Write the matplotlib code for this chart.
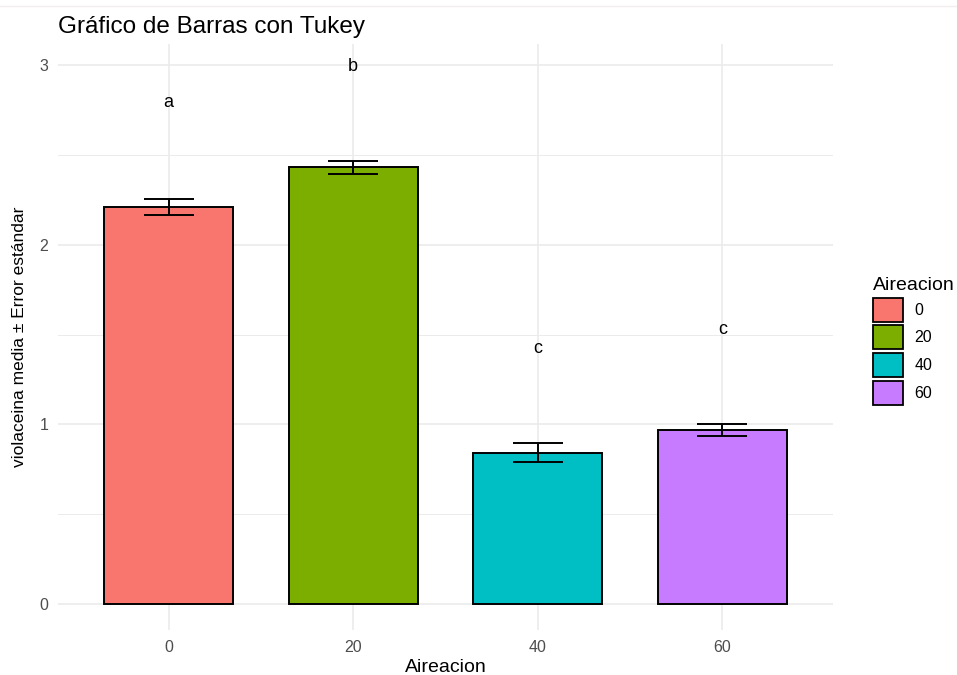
import matplotlib
matplotlib.use("Agg")
import matplotlib.pyplot as plt
from matplotlib.patches import Patch
from matplotlib.lines import Line2D
import numpy as np

plt.rcParams['font.family'] = ['Liberation Sans', 'DejaVu Sans']

# datos
aireacion = ['0', '20', '40', '60']
medias = [2.21, 2.43, 0.843, 0.968]
errores = [0.046, 0.037, 0.053, 0.034]
letras = ['a', 'b', 'c', 'c']
letra_y = [2.79, 2.99, 1.42, 1.53]
colores = ['#F8766D', '#7CAE00', '#00BFC4', '#C77CFF']

W, H = 957, 675
fig = plt.figure(figsize=(W / 100, H / 100), dpi=100)
# panel: x 58..833 px, y 44..630 px
ax = fig.add_axes([58 / W, 1 - 630 / H, (833 - 58) / W, (630 - 44) / H])

x = np.arange(len(aireacion))
ax.bar(x, medias, width=0.7, color=colores, edgecolor='black', linewidth=1.4, zorder=3)
ax.errorbar(x, medias, yerr=errores, fmt='none', ecolor='black', elinewidth=1.4,
            capsize=18, capthick=1.4, zorder=4)
for xi, l, ly in zip(x, letras, letra_y):
    ax.text(xi, ly, l, ha='center', va='center', fontsize=13, color='black', zorder=5)

ax.set_xlim(-0.6, len(aireacion) - 0.4)
ax.set_ylim(-0.1447, 3.117)
ax.set_xticks(x)
ax.set_xticklabels(aireacion)
ax.set_yticks([0, 1, 2, 3])
ax.set_yticks([0.5, 1.5, 2.5], minor=True)
ax.grid(True, which='major', color='#EBEBEB', linewidth=1.2, zorder=0)
ax.grid(True, which='minor', axis='y', color='#EBEBEB', linewidth=0.7, zorder=0)
ax.tick_params(which='both', length=0, labelsize=11.5, labelcolor='#4D4D4D', pad=7)
for s in ax.spines.values():
    s.set_visible(False)

ax.set_xlabel('Aireacion', fontsize=14, labelpad=3)
ax.set_ylabel('violaceina media ± Error estándar', fontsize=12.5, labelpad=9)
ax.set_title('Gráfico de Barras con Tukey', loc='left', fontsize=17.5, pad=8)

handles = [Patch(facecolor=c, edgecolor='black', linewidth=1.3) for c in colores]
fig.legend(handles, aireacion, title='Aireacion', loc='upper left',
           bbox_to_anchor=(865 / W, 1 - 269 / H), frameon=False, fontsize=11.5,
           title_fontsize=14, handlelength=1.9, handleheight=1.95,
           labelspacing=0.22, borderpad=0, handletextpad=0.7, alignment='left')

# linea tenue superior
fig.add_artist(Line2D([0, 1], [1 - 6 / H, 1 - 6 / H], color='#F3EDED', linewidth=1.0))

fig.savefig('out.png', dpi=100)
